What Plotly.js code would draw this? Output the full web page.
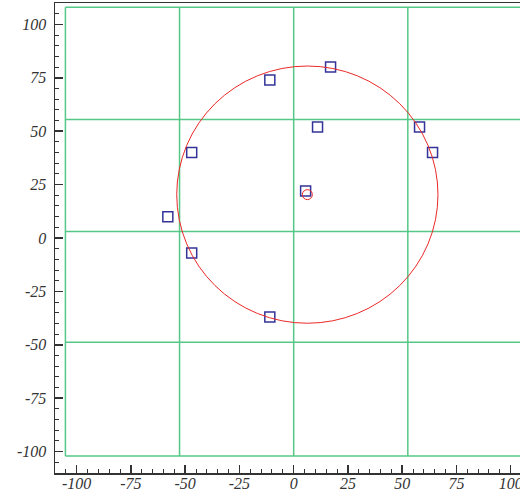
<!DOCTYPE html>
<html>
<head>
<meta charset="utf-8">
<script src="https://cdn.plot.ly/plotly-3.0.1.min.js"></script>
<style>html,body{margin:0;padding:0;background:#fff;}#chart{width:520px;height:493px;}</style>
</head>
<body>
<div id="chart"></div>
<script>
// Data points (open squares)
const pointsX = [-58, -11, 17, 11, -47, 5.5, 58, 64, -47, -11];
const pointsY = [10, 74, 80, 52, 40, 22, 52, 40, -7, -37];
// Fitted circle
const circleCenterX = [6.3];
const circleCenterY = [20.3];
const circleRadius = 60.2;
// Grid lines positions (data units)
const gridX = [-105.2, -52.6, 0, 52.6, 105.2];
const gridY = [-102, -48.8, 3, 55.5, 108];
// Tick labels
const xTickVals = [-100, -75, -50, -25, 0, 25, 50, 75, 100];
const xTickText = ['-100', '-75', '-50', '-25', '0', '25', '50', '75', '100'];
const yTickVals = [-100, -75, -50, -25, 0, 25, 50, 75, 100];
const yTickText = ['-100', '-75', '-50', '-25', '0', '25', '50', '75', '100'];

const gridColor = 'rgb(85,200,135)';
const shapes = [];
gridX.forEach(gx => shapes.push({type:'line', layer:'below', xref:'x', yref:'y',
  x0:gx, x1:gx, y0:gridY[0], y1:gridY[gridY.length-1], line:{color:gridColor, width:1.5}}));
gridY.forEach(gy => shapes.push({type:'line', layer:'below', xref:'x', yref:'y',
  y0:gy, y1:gy, x0:gridX[0], x1:gridX[gridX.length-1], line:{color:gridColor, width:1.5}}));
shapes.push({type:'circle', xref:'x', yref:'y',
  x0:circleCenterX[0]-circleRadius, x1:circleCenterX[0]+circleRadius,
  y0:circleCenterY[0]-circleRadius, y1:circleCenterY[0]+circleRadius,
  line:{color:'rgb(235,40,40)', width:1}});

const traces = [
  {x:pointsX, y:pointsY, type:'scatter', mode:'markers',
   marker:{symbol:'square-open', size:10, color:'#333399', line:{width:1.5}}},
  {x:circleCenterX, y:circleCenterY, type:'scatter', mode:'markers',
   marker:{symbol:'circle-open', size:10, color:'rgb(235,40,40)', line:{width:1}}}
];

const tickFont = {family:'"Liberation Serif", "Times New Roman", serif', size:16, color:'#333', style:'italic'};
const axisCommon = {
  showgrid:false, zeroline:false, showline:true, linecolor:'#333', linewidth:1.5,
  mirror:true, ticks:'inside', ticklen:8, tickwidth:1.5, tickcolor:'#333',
  tickmode:'array', tickfont:tickFont, ticklabeloverflow:'allow',
  minor:{tickmode:'linear', tick0:0, dtick:5, ticklen:4, tickwidth:1, tickcolor:'#333', ticks:'inside'}
};

const layout = {
  width:520, height:493,
  margin:{l:55, r:0, t:3, b:20, pad:0},
  paper_bgcolor:'#fff', plot_bgcolor:'#fff',
  showlegend:false,
  xaxis:Object.assign({}, axisCommon, {range:[-110, 104.3], tickvals:xTickVals, ticktext:xTickText, ticklabelstandoff:-5}),
  yaxis:Object.assign({}, axisCommon, {range:[-110, 110], tickvals:yTickVals, ticktext:yTickText, ticklabelstandoff:4})
};
layout.shapes = shapes;

Plotly.newPlot('chart', traces, layout, {displayModeBar:false, staticPlot:true});
</script>
</body>
</html>
